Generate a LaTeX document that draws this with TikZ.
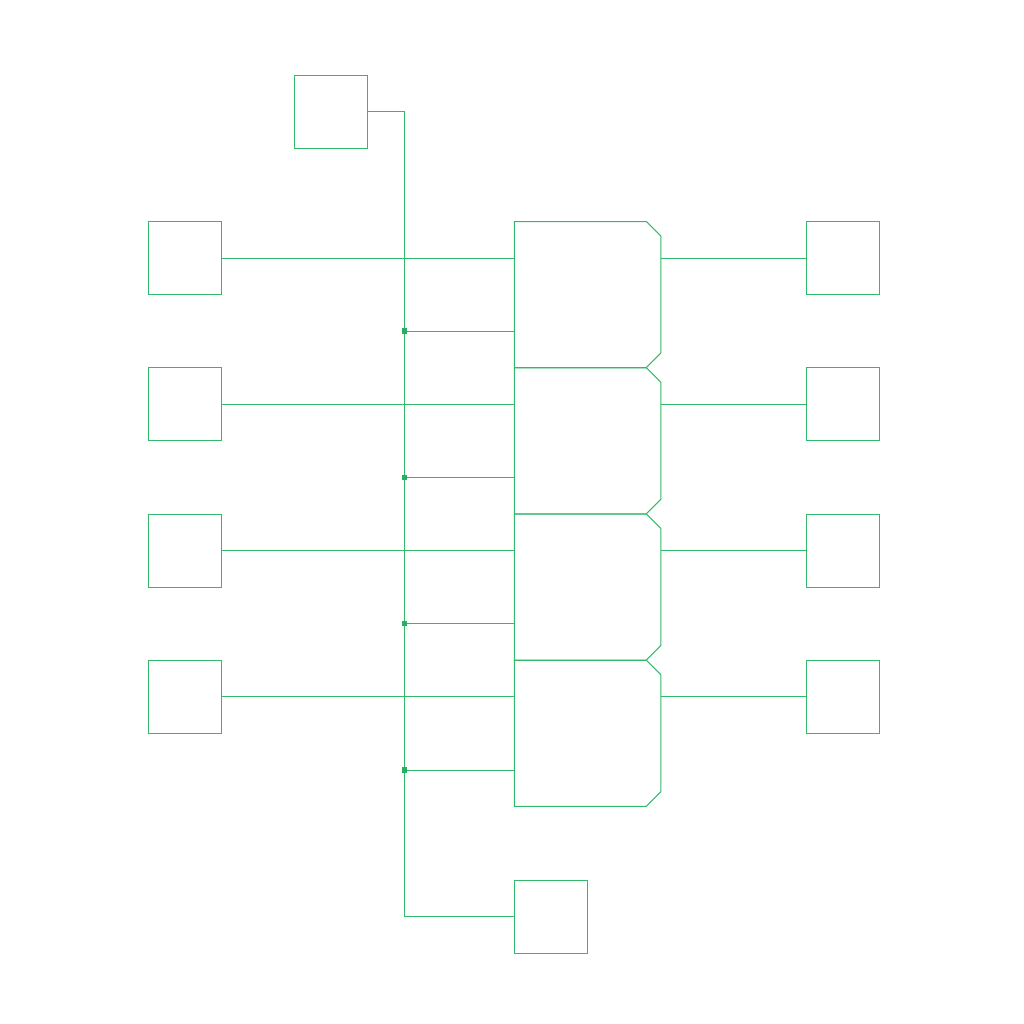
\documentclass[tikz,border=0pt]{standalone}
\newlength{\du}
\setlength{\du}{0.3pt}
\definecolor{dialinecolor}{HTML}{33B96C}
\definecolor{dotcolor}{HTML}{27AE60}
\tikzset{
  wire/.style={draw=dialinecolor,line width=1\du,line join=miter},
  regbox/.style={wire,rectangle,minimum width=73\du,minimum height=73\du,inner sep=0pt,outer sep=0pt},
  chipbox/.style={rectangle,minimum width=146.5\du,minimum height=146\du,inner sep=0pt,outer sep=0pt},
  tapdot/.style={rectangle,fill=dotcolor,minimum size=5.5\du,inner sep=0pt,outer sep=0pt},
}
% chip outline with the two cut corners on the right
\newcommand{\chipoutline}[1]{\draw[wire] (#1.north west)--++(132,0)--++(14.5,14.5)--++(0,117)--++(-14.5,14.5)--++(-132,0)--cycle;}

\begin{document}
\begin{tikzpicture}[x=\du,y=-\du]
\useasboundingbox (0,0) rectangle (1024,1024);

% top and bottom boxes
\node[regbox] (top) at (331.2,111.5){};
\node[regbox] (bottom) at (551,916.5){};

% left column
\node[regbox] (lefta) at (185.2,258){};
\node[regbox] (leftb) at (185.2,404){};
\node[regbox] (leftc) at (185.2,550.5){};
\node[regbox] (leftd) at (185.2,696.5){};

% right column
\node[regbox] (righta) at (843.2,258){};
\node[regbox] (rightb) at (843.2,404){};
\node[regbox] (rightc) at (843.2,550.5){};
\node[regbox] (rightd) at (843.2,696.5){};

% chips
\node[chipbox] (chipa) at (587.6,294.5){};
\node[chipbox] (chipb) at (587.6,440.75){};
\node[chipbox] (chipc) at (587.6,587){};
\node[chipbox] (chipd) at (587.6,733.25){};
\chipoutline{chipa}
\chipoutline{chipb}
\chipoutline{chipc}
\chipoutline{chipd}

% common line
\coordinate (bustop) at (404.6,111.5);
\coordinate (busbottom) at (404.6,916.5);
\draw[wire] (top.east)--(bustop)--(busbottom)--(bottom.west);

% taps on the common line
\node[tapdot] (tapa) at (404.6,331){};
\node[tapdot] (tapb) at (404.6,477.5){};
\node[tapdot] (tapc) at (404.6,623.5){};
\node[tapdot] (tapd) at (404.6,770){};
\draw[wire] (tapa)--(chipa.west |- tapa);
\draw[wire] (tapb)--(chipb.west |- tapb);
\draw[wire] (tapc)--(chipc.west |- tapc);
\draw[wire] (tapd)--(chipd.west |- tapd);

% left boxes to chips
\draw[wire] (lefta.east)--(chipa.west |- lefta.east);
\draw[wire] (leftb.east)--(chipb.west |- leftb.east);
\draw[wire] (leftc.east)--(chipc.west |- leftc.east);
\draw[wire] (leftd.east)--(chipd.west |- leftd.east);

% chips to right boxes
\draw[wire] (chipa.east |- righta.west)--(righta.west);
\draw[wire] (chipb.east |- rightb.west)--(rightb.west);
\draw[wire] (chipc.east |- rightc.west)--(rightc.west);
\draw[wire] (chipd.east |- rightd.west)--(rightd.west);
\end{tikzpicture}
\end{document}
